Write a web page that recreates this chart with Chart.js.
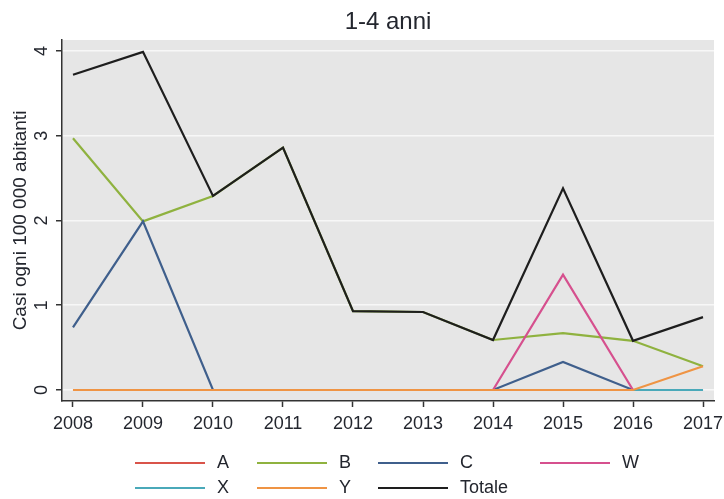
<!DOCTYPE html>
<html>
<head>
<meta charset="utf-8">
<script src="https://cdn.jsdelivr.net/npm/chart.js@4/dist/chart.umd.min.js"></script>
<style>
  html, body { margin: 0; padding: 0; background: #fff; }
  #wrap { width: 724px; height: 499px; position: relative; }
</style>
</head>
<body>
<div id="wrap"><canvas id="chart" width="724" height="499"></canvas></div>
<script>
// Data
const chartTitle = '1-4 anni';
const yTitle = 'Casi ogni 100 000 abitanti';
const years = [2008, 2009, 2010, 2011, 2012, 2013, 2014, 2015, 2016, 2017];
const yTicks = [0, 1, 2, 3, 4];

const seriesA = [0, 0, 0, 0, 0, 0, 0, 0, 0, 0];
const seriesB = [2.97, 1.99, 2.29, 2.86, 0.93, 0.92, 0.59, 0.67, 0.58, 0.28];
const seriesC = [0.74, 1.99, 0, 0, 0, 0, 0, 0.33, 0, 0];
const seriesW = [0, 0, 0, 0, 0, 0, 0, 1.36, 0, 0];
const seriesX = [0, 0, 0, 0, 0, 0, 0, 0, 0, 0];
const seriesY = [0, 0, 0, 0, 0, 0, 0, 0, 0, 0.28];
const totale = [3.72, 3.99, 2.29, 2.86, 0.93, 0.92, 0.59, 2.38, 0.58, 0.86];

const seriesNames = ['A', 'B', 'C', 'W', 'X', 'Y', 'Totale'];
const seriesValues = [seriesA, seriesB, seriesC, seriesW, seriesX, seriesY, totale];
const seriesColors = ['#d9544a', '#8fb23f', '#3f5f8c', '#d6508e', '#4aa9b9', '#ef9444', '#1e1e1e'];

const FONT = "'Liberation Sans', Arial, sans-serif";
const TEXT = '#23262e';

// Stata draws later series on top; in Chart.js lower order = on top
const datasets = seriesNames.map((name, i) => ({
    label: name,
    data: years.map((yr, j) => ({ x: yr, y: seriesValues[i][j] })),
    borderColor: seriesColors[i],
    backgroundColor: seriesColors[i],
    borderWidth: 2.2,
    pointRadius: 0,
    tension: 0,
    order: seriesNames.length - i
}));

// gray plot region
const plotBg = {
    id: 'plotBg',
    beforeDraw(chart) {
        const a = chart.chartArea;
        const ctx = chart.ctx;
        ctx.save();
        ctx.fillStyle = '#e6e6e6';
        ctx.fillRect(a.left, a.top, a.right - a.left, a.bottom - a.top);
        ctx.restore();
    }
};

// title, rotated y tick labels and the 4-column legend
const extras = {
    id: 'extras',
    afterDraw(chart) {
        const ctx = chart.ctx;
        const a = chart.chartArea;
        const ys = chart.scales.y;
        ctx.save();
        ctx.fillStyle = TEXT;

        ctx.font = '24px ' + FONT;
        ctx.textAlign = 'center';
        ctx.textBaseline = 'middle';
        ctx.fillText(chartTitle, (a.left + a.right) / 2, 22);

        ctx.font = '18px ' + FONT;
        yTicks.forEach(v => {
            ctx.save();
            ctx.translate(42, ys.getPixelForValue(v));
            ctx.rotate(-Math.PI / 2);
            ctx.fillText(String(v), 0, 0);
            ctx.restore();
        });

        const colX = [135, 257, 378, 540];
        const rowY = [463, 488];
        ctx.font = '18px ' + FONT;
        ctx.textAlign = 'left';
        seriesNames.forEach((name, i) => {
            const x = colX[i % 4];
            const y = rowY[Math.floor(i / 4)];
            ctx.strokeStyle = seriesColors[i];
            ctx.lineWidth = 2.2;
            ctx.beginPath();
            ctx.moveTo(x, y);
            ctx.lineTo(x + 70, y);
            ctx.stroke();
            ctx.fillText(name, x + 82, y);
        });
        ctx.restore();
    }
};

new Chart(document.getElementById('chart'), {
    type: 'line',
    data: { datasets },
    options: {
        responsive: false,
        animation: false,
        layout: { padding: { top: 40, right: 10, left: 0, bottom: 0 } },
        plugins: {
            legend: { display: false },
            tooltip: { enabled: false }
        },
        scales: {
            x: {
                type: 'linear',
                min: 2007.843,
                max: 2017.157,
                afterBuildTicks: s => { s.ticks = years.map(v => ({ value: v })); },
                afterFit: s => { s.height = 98; s.paddingLeft = 0; s.paddingRight = 0; },
                ticks: {
                    callback: v => String(v),
                    autoSkip: false,
                    maxRotation: 0,
                    padding: 6,
                    color: TEXT,
                    font: { family: FONT, size: 18 }
                },
                grid: {
                    drawOnChartArea: false,
                    drawTicks: true,
                    tickLength: 6,
                    tickColor: '#333',
                    tickWidth: 1.5
                },
                border: { color: '#333', width: 1.5 }
            },
            y: {
                min: -0.13,
                max: 4.13,
                afterBuildTicks: s => { s.ticks = yTicks.map(v => ({ value: v })); },
                afterFit: s => { s.width = 62; s.paddingTop = 0; s.paddingBottom = 0; },
                ticks: { callback: () => '', color: TEXT },
                title: {
                    display: true,
                    text: yTitle,
                    color: TEXT,
                    font: { family: FONT, size: 19 },
                    padding: { top: 9, bottom: 0 }
                },
                grid: {
                    color: '#f7f7f7',
                    lineWidth: 1.5,
                    drawTicks: true,
                    tickLength: 6,
                    tickColor: '#333',
                    tickWidth: 1.5
                },
                border: { color: '#333', width: 1.5 }
            }
        }
    },
    plugins: [plotBg, extras]
});
</script>
</body>
</html>
